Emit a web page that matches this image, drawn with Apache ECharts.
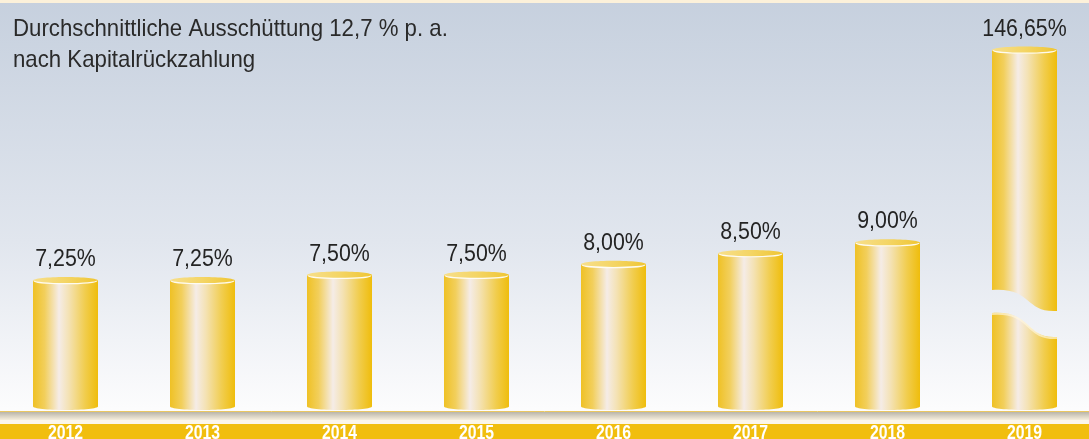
<!DOCTYPE html>
<html><head><meta charset="utf-8">
<script src="https://cdn.jsdelivr.net/npm/echarts@6/dist/echarts.min.js"></script>
<style>html,body{margin:0;padding:0;background:#fff}#c{width:1089px;height:439px}</style>
</head><body><div id="c"></div>
<script>
// ---- data ----
const years = ['2012', '2013', '2014', '2015', '2016', '2017', '2018', '2019'];
const rates = [7.25, 7.25, 7.50, 7.50, 8.00, 8.50, 9.00, 146.65];
const rateLabels = ['7,25%', '7,25%', '7,50%', '7,50%', '8,00%', '8,50%', '9,00%', '146,65%'];
const brokenYear = '2019';
const titleLines = ['Durchschnittliche Ausschüttung 12,7 % p. a.', 'nach Kapitalrückzahlung'];

// ---- drawing ----
const W = 1089, H = 439;
const K = 0.5523;
const BAR_W = 65, RY = 3.5;
const FONT_FAMILY = '"Liberation Sans", Arial, sans-serif';
const LABEL_FONT = '24px ' + FONT_FAMILY;
const YEAR_FONT = 'bold 19.5px ' + FONT_FAMILY;

const bodyGrad = () => ({
  type: 'linear', x: 0, y: 0, x2: 1, y2: 0,
  colorStops: [
    { offset: 0, color: '#efc125' },
    { offset: 0.18, color: '#f2cf5c' },
    { offset: 0.40, color: '#f5ece7' },
    { offset: 0.55, color: '#f4e2b4' },
    { offset: 0.80, color: '#f1cd4e' },
    { offset: 1, color: '#efbd0c' }
  ]
});
const topGrad = () => ({
  type: 'linear', x: 0, y: 0, x2: 1, y2: 1,
  colorStops: [
    { offset: 0, color: '#f7df8c' },
    { offset: 0.5, color: '#f4d565' },
    { offset: 1, color: '#efc532' }
  ]
});

function wave(x0, y, A, w) {
  return `C ${x0 + 0.62 * w} ${y - 3} ${x0 + 0.5 * w} ${y + A + 2} ${x0 + w} ${y + A}`;
}

function renderCylinder(params, api, broken) {
  const i = api.value(0), v = api.value(1);
  const p = api.coord([i, v]);
  const cs = params.coordSys;
  const axisY = cs.y + cs.height;
  const base = axisY - 1;
  const w = BAR_W, rx = w / 2, ry = RY;
  const cx = p[0], ty = p[1];
  const x0 = cx - rx, x1 = cx + rx;
  const children = [];
  const botArcFwd = `L ${x0} ${base - ry} C ${x0} ${base - ry + K * ry} ${cx - K * rx} ${base} ${cx} ${base} C ${cx + K * rx} ${base} ${x1} ${base - ry + K * ry} ${x1} ${base - ry}`;
  if (!broken) {
    children.push({ type: 'path', shape: { pathData: `M ${x0} ${ty} ${botArcFwd} L ${x1} ${ty} Z` }, style: { fill: bodyGrad() } });
  } else {
    const yU = base - 120, AU = 21;
    const yL = yU + 23, AL = 24;
    children.push({ type: 'path', shape: { pathData: `M ${x0} ${ty} L ${x0} ${yU} ${wave(x0, yU, AU, w)} L ${x1} ${ty} Z` }, style: { fill: bodyGrad() } });
    children.push({ type: 'path', shape: { pathData: `M ${x0} ${yL} ${wave(x0, yL, AL, w)} L ${x1} ${base - ry} C ${x1} ${base - ry + K * ry} ${cx + K * rx} ${base} ${cx} ${base} C ${cx - K * rx} ${base} ${x0} ${base - ry + K * ry} ${x0} ${base - ry} Z` }, style: { fill: bodyGrad() } });
    children.push({ type: 'path', shape: { pathData: `M ${x0} ${yL + 1} ${wave(x0, yL + 1, AL, w)}` }, style: { fill: 'none', stroke: 'rgba(255,248,225,0.65)', lineWidth: 2 } });
  }
  const ell = `M ${x0} ${ty} C ${x0} ${ty - K * ry} ${cx - K * rx} ${ty - ry} ${cx} ${ty - ry} C ${cx + K * rx} ${ty - ry} ${x1} ${ty - K * ry} ${x1} ${ty} C ${x1} ${ty + K * ry} ${cx + K * rx} ${ty + ry} ${cx} ${ty + ry} C ${cx - K * rx} ${ty + ry} ${x0} ${ty + K * ry} ${x0} ${ty} Z`;
  children.push({ type: 'path', shape: { pathData: ell }, style: { fill: topGrad() } });
  children.push({ type: 'path', shape: { pathData: `M ${x0 + 1} ${ty + 0.3} C ${x0 + 1} ${ty + K * ry} ${cx - K * rx} ${ty + ry - 0.3} ${cx} ${ty + ry - 0.3} C ${cx + K * rx} ${ty + ry - 0.3} ${x1 - 1} ${ty + K * ry} ${x1 - 1} ${ty + 0.3}` }, style: { fill: 'none', stroke: 'rgba(255,255,255,0.9)', lineWidth: 1.2 } });
  // value label (condensed look via scaleX)
  children.push({ type: 'text', x: cx, y: ty - 21, scaleX: 0.89, style: { text: rateLabels[i], x: 0, y: 0, align: 'center', verticalAlign: 'middle', font: LABEL_FONT, fill: '#242424' } });
  // year label on the yellow band
  children.push({ type: 'text', x: cx, y: axisY + 22.6, scaleX: 0.81, style: { text: years[i], x: 0, y: 0, align: 'center', verticalAlign: 'middle', font: YEAR_FONT, fill: '#ffffff' } });
  return { type: 'group', children };
}

const brokenIdx = years.indexOf(brokenYear);
const normalData = [], brokenData = [];
years.forEach((y, i) => (i === brokenIdx ? brokenData : normalData).push([i, rates[i]]));

const chart = echarts.init(document.getElementById('c'), null, { renderer: 'canvas' });
chart.setOption({
  animation: false,
  grid: { left: -3, right: -4, top: 40, bottom: 28, outerBoundsMode: 'none', containLabel: false },
  xAxis: {
    type: 'category', data: years,
    axisLine: { show: true, lineStyle: { color: '#eac760', width: 1 } },
    axisTick: { show: false }, splitLine: { show: false },
    axisLabel: { show: false }
  },
  yAxis: [
    { type: 'value', min: 1.2, max: 18.4, show: false },
    { type: 'value', min: 0, max: 150.7, show: false }
  ],
  graphic: [
    { type: 'rect', z: -100, silent: true, shape: { x: 0, y: 0, width: W, height: H }, style: { fill: { type: 'linear', x: 0, y: 0, x2: 0, y2: 1, colorStops: [ { offset: 0, color: '#c6d0de' }, { offset: 0.55, color: '#e1e6ee' }, { offset: 0.93, color: '#fcfcfd' }, { offset: 1, color: '#ffffff' } ] } } },
    { type: 'rect', z: -90, silent: true, shape: { x: 0, y: 0, width: W, height: 3 }, style: { fill: '#fcf1da' } },
    { type: 'rect', z: -90, silent: true, shape: { x: 0, y: 412, width: W, height: 12 }, style: { fill: '#fbf6ea' } },
    { type: 'rect', z: -89, silent: true, shape: { x: 0, y: 412, width: W, height: 8 }, style: { fill: { type: 'linear', x: 0, y: 0, x2: 0, y2: 1, colorStops: [ { offset: 0, color: '#b9b5aa' }, { offset: 1, color: '#f6eedc' } ] } } },
    { type: 'rect', z: -80, silent: true, shape: { x: 0, y: 424, width: W, height: 15 }, style: { fill: '#f1be0e' } },
    { type: 'text', z: 10, silent: true, x: 13, y: 29.6, scaleX: 0.926, style: { text: titleLines[0], x: 0, y: 0, align: 'left', verticalAlign: 'middle', font: '24px ' + FONT_FAMILY, fill: '#2a2a2a' } },
    { type: 'text', z: 10, silent: true, x: 13, y: 60.6, scaleX: 0.926, style: { text: titleLines[1], x: 0, y: 0, align: 'left', verticalAlign: 'middle', font: '24px ' + FONT_FAMILY, fill: '#2a2a2a' } }
  ],
  series: [
    { type: 'custom', yAxisIndex: 0, data: normalData, renderItem: (p, api) => renderCylinder(p, api, false), clip: false },
    { type: 'custom', yAxisIndex: 1, data: brokenData, renderItem: (p, api) => renderCylinder(p, api, true), clip: false }
  ]
});
</script>
</body></html>
